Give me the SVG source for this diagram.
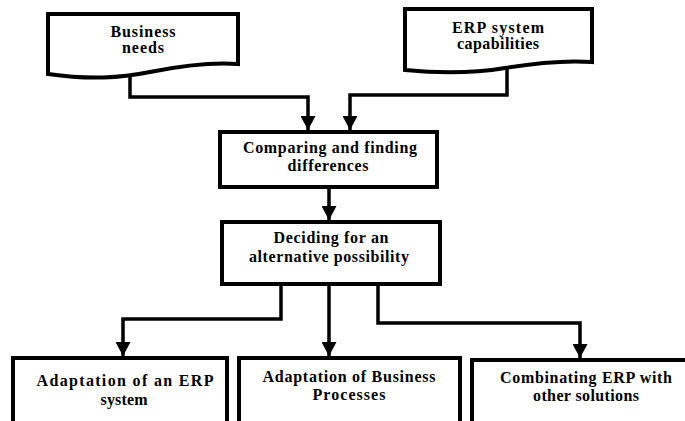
<svg xmlns="http://www.w3.org/2000/svg" width="685" height="421" viewBox="0 0 685 421" font-family="Liberation Serif, Times New Roman, serif" font-weight="bold" font-size="16" text-anchor="middle">
<style>
.box{fill:#fff;stroke:#000;stroke-width:4}
.con{fill:none;stroke:#000;stroke-width:3.5;stroke-linejoin:miter}
</style>
<defs>
<marker id="arr" markerUnits="userSpaceOnUse" markerWidth="15" markerHeight="15" viewBox="0 0 15 15" refX="14" refY="7.5" orient="auto">
<path d="M0,0 L14,7.5 L0,15 Z" fill="#000"/>
</marker>
</defs>
<g id="business-needs">
<path class="box" d="M48,14 H238 V64 C210,62 180,66 150,72 C120,78 90,80 48,74 Z"/>
<text x="143" y="37" textLength="65" lengthAdjust="spacing">Business</text>
<text x="143" y="53" textLength="42" lengthAdjust="spacing">needs</text>
</g>
<g id="erp-capabilities">
<path class="box" d="M405,9 H592 V62 C565,60 535,63 505,68 C475,73 445,74 405,70 Z"/>
<text x="498" y="33" textLength="92" lengthAdjust="spacing">ERP system</text>
<text x="498" y="49" textLength="82" lengthAdjust="spacing">capabilities</text>
</g>
<g id="comparing">
<rect class="box" x="220" y="132" width="217" height="55"/>
<text x="330" y="153" textLength="174" lengthAdjust="spacing">Comparing and finding</text>
<text x="328" y="171" textLength="81" lengthAdjust="spacing">differences</text>
</g>
<g id="deciding">
<rect class="box" x="222" y="222" width="218" height="62"/>
<text x="331" y="243" textLength="115" lengthAdjust="spacing">Deciding for an</text>
<text x="329" y="262" textLength="160" lengthAdjust="spacing">alternative possibility</text>
</g>
<g id="adapt-erp">
<rect class="box" x="13" y="358" width="214" height="70"/>
<text x="125" y="386" textLength="177" lengthAdjust="spacing">Adaptation of an ERP</text>
<text x="124" y="405" textLength="47" lengthAdjust="spacing">system</text>
</g>
<g id="adapt-business">
<rect class="box" x="239" y="358" width="221" height="70"/>
<text x="349" y="382" textLength="173" lengthAdjust="spacing">Adaptation of Business</text>
<text x="349" y="400" textLength="73" lengthAdjust="spacing">Processes</text>
</g>
<g id="combinating">
<rect class="box" x="472" y="360" width="230" height="70"/>
<text x="586" y="383" textLength="172" lengthAdjust="spacing">Combinating ERP with</text>
<text x="586" y="401" textLength="106" lengthAdjust="spacing">other solutions</text>
</g>
<g id="connectors">
<path class="con" marker-end="url(#arr)" d="M130,76 V97 H308 V130"/>
<path class="con" marker-end="url(#arr)" d="M507,69 V95 H350 V130"/>
<path class="con" marker-end="url(#arr)" d="M329,188 V220"/>
<path class="con" marker-end="url(#arr)" d="M281,285 V319 H123 V356"/>
<path class="con" marker-end="url(#arr)" d="M329,285 V356"/>
<path class="con" marker-end="url(#arr)" d="M378,285 V323 H580 V358"/>
</g>
</svg>
